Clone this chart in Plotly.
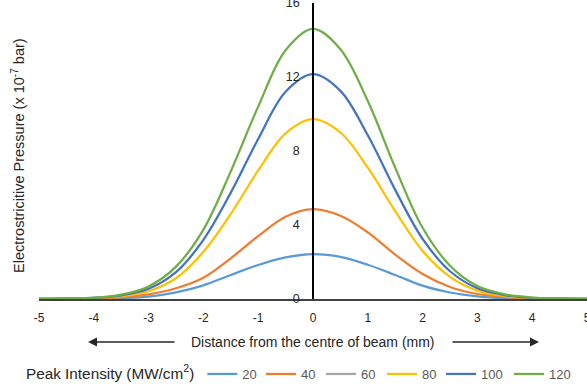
import plotly.graph_objects as go

# Distance from the centre of beam (mm)
distance = [-5, -4.5, -4, -3.5, -3, -2.5, -2, -1.5, -1, -0.5, 0,
            0.5, 1, 1.5, 2, 2.5, 3, 3.5, 4, 4.5, 5]

# Electrostrictive pressure (x 10^-7 bar) per peak intensity (MW/cm^2)
p20 = [0.0, 0.01, 0.02, 0.05, 0.13, 0.36, 0.74, 1.30, 1.84, 2.25, 2.43,
       2.28, 1.85, 1.30, 0.72, 0.35, 0.14, 0.05, 0.02, 0.01, 0.0]
p40 = [0.0, 0.01, 0.03, 0.09, 0.25, 0.58, 1.15, 2.20, 3.40, 4.45, 4.86,
       4.50, 3.60, 2.40, 1.35, 0.65, 0.27, 0.10, 0.03, 0.01, 0.0]
p60 = [None] * len(distance)
p80 = [0.0, 0.02, 0.05, 0.15, 0.42, 1.12, 2.55, 4.60, 6.95, 8.95, 9.72,
       9.00, 7.10, 4.75, 2.60, 1.20, 0.45, 0.16, 0.05, 0.02, 0.0]
p100 = [0.01, 0.02, 0.06, 0.20, 0.55, 1.45, 3.20, 5.75, 8.65, 11.20, 12.15,
        11.25, 8.85, 5.90, 3.25, 1.50, 0.58, 0.21, 0.06, 0.02, 0.01]
p120 = [0.01, 0.03, 0.07, 0.24, 0.68, 1.75, 3.75, 6.90, 10.40, 13.45, 14.60,
        13.50, 10.70, 7.10, 3.85, 1.80, 0.70, 0.25, 0.08, 0.03, 0.01]

series_names = ["20", "40", "60", "80", "100", "120"]
series_values = [p20, p40, p60, p80, p100, p120]
colors = ["#5B9BD5", "#ED7D31", "#A5A5A5", "#FFC000", "#4472C4", "#70AD47"]

x_ticks = [-5, -4, -3, -2, -1, 0, 1, 2, 3, 4, 5]
y_ticks = [0, 4, 8, 12, 16]

FONT = "Liberation Sans"

W, H = 587, 391
ML, MR, MT, MB = 39, 0, 3, 92
pw = W - ML - MR
ph = H - MT - MB


def px_x(p):
    return (p - ML) / pw


def px_y(p):
    return (H - MB - p) / ph


# legend item label left edges in the reference (px)
legend_text_px = [243, 301, 361, 422, 481, 549]
legend_ids = ["legend", "legend2", "legend3", "legend4", "legend5", "legend6"]

fig = go.Figure()
for name, vals, col, lid in zip(series_names, series_values, colors, legend_ids):
    fig.add_trace(go.Scatter(
        x=distance, y=vals, name=name, mode="lines", legend=lid,
        line=dict(color=col, width=2.25, shape="spline", smoothing=1.0),
        connectgaps=False,
    ))

legend_common = dict(
    orientation="h", yanchor="middle", y=px_y(374),
    font=dict(family=FONT, size=13, color="#595959"),
    itemwidth=30, bgcolor="rgba(0,0,0,0)", borderwidth=0,
)

layout_legends = {}
layout_legends["legend"] = dict(
    legend_common, x=px_x(24), xanchor="left",
    title=dict(text="Peak Intensity (MW/cm<sup>2</sup>)",
               font=dict(family=FONT, size=15.3, color="#262626"), side="left"),
)
for lid, tx in zip(legend_ids[1:], legend_text_px[1:]):
    # item text sits about 40 px after the start of the legend box
    layout_legends[lid] = dict(legend_common, x=px_x(tx - 40), xanchor="left")

fig.update_layout(
    width=W, height=H,
    margin=dict(l=ML, r=MR, t=MT, b=MB, pad=0, autoexpand=False),
    paper_bgcolor="white", plot_bgcolor="white",
    font=dict(family=FONT, size=12, color="#404040"),
    showlegend=True,
    **layout_legends,
    xaxis=dict(
        range=[-5, 5], tickvals=x_ticks, ticktext=[str(v) for v in x_ticks],
        showgrid=False, zeroline=False, showline=True, linecolor="#404040",
        linewidth=2, ticks="", ticklabelstandoff=7, ticklabeloverflow="allow",
        tickfont=dict(family=FONT, size=12, color="#262626"),
        fixedrange=True, automargin=False,
    ),
    yaxis=dict(
        range=[0, 16], tickvals=y_ticks, ticktext=[str(v) for v in y_ticks],
        anchor="free", position=0.5, side="left",
        showgrid=False, zeroline=False, showline=True, linecolor="black",
        linewidth=1.5, ticks="", ticklabelstandoff=10, ticklabeloverflow="allow",
        tickfont=dict(family=FONT, size=12.5, color="#262626"),
        fixedrange=True, automargin=False,
    ),
    annotations=[
        dict(text="Electrostricitive Pressure (x 10<sup>-7</sup> bar)",
             xref="paper", yref="paper", x=px_x(18), y=px_y(156),
             textangle=-90, showarrow=False, xanchor="center", yanchor="middle",
             font=dict(family=FONT, size=14.5, color="#262626")),
        dict(text="Distance from the centre of beam (mm)",
             xref="paper", yref="paper", x=px_x(313), y=px_y(342),
             showarrow=False, xanchor="center", yanchor="middle",
             font=dict(family=FONT, size=14, color="#262626")),
        dict(text="", xref="paper", yref="paper", x=px_x(88), y=px_y(342),
             ax=176 - 88, ay=0, showarrow=True, arrowhead=2, arrowsize=1.2,
             arrowwidth=1.5, arrowcolor="#262626"),
        dict(text="", xref="paper", yref="paper", x=px_x(539), y=px_y(342),
             ax=451 - 539, ay=0, showarrow=True, arrowhead=2, arrowsize=1.2,
             arrowwidth=1.5, arrowcolor="#262626"),
    ],
)

fig.write_html("out.html")
